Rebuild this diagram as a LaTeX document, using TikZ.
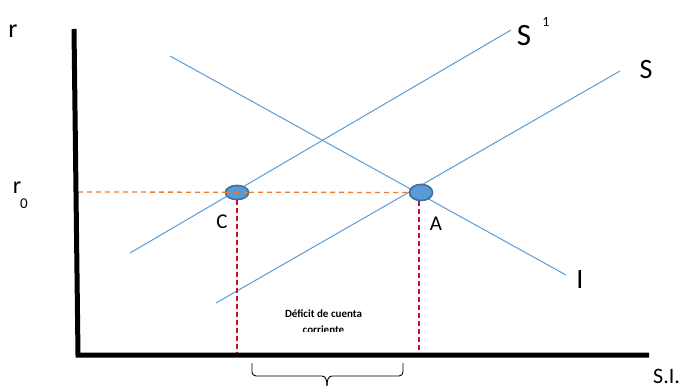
\documentclass[tikz,border=0pt]{standalone}
\usepackage{fontspec}
\setmainfont{Carlito}
\usetikzlibrary{shapes.geometric}
\definecolor{lineblue}{HTML}{5B9BD5}
\definecolor{ptborder}{HTML}{41719C}
\definecolor{dashorange}{HTML}{ED7D31}
\definecolor{dashred}{HTML}{C8102E}
\tikzset{
  axis/.style={line width=5pt, black, line join=miter},
  curve/.style={lineblue, line width=1pt},
  hdash/.style={dashorange, line width=1.3pt, dash pattern=on 5pt off 4pt},
  vdash/.style={dashred, line width=1.2pt, dash pattern=on 5pt off 3pt},
  pt/.style={ellipse, draw=ptborder, fill=lineblue, line width=1.5pt, inner sep=0pt},
  lbl/.style={inner sep=0pt, font=\fontsize{#1}{#1}\selectfont},
  lbl/.default=22,
  bracepath/.style={black, line width=0.9pt}
}
\begin{document}
\begin{tikzpicture}[x=1pt,y=-1pt]
\useasboundingbox (0,0) rectangle (679,385);
\clip (0,0) rectangle (679,385);

% curves
\coordinate (s1a) at (130,253); \coordinate (s1b) at (511,30);
\coordinate (sa) at (216,303); \coordinate (sb) at (620,71);
\coordinate (ia) at (170,56); \coordinate (ib) at (566,275);
\draw[curve] (s1a) -- (s1b);
\draw[curve] (sa) -- (sb);
\draw[curve] (ia) -- (ib);

% axes
\coordinate (ytop) at (74,29);
\coordinate (orig) at (78,355);
\coordinate (xend) at (649,355);
\coordinate (r0pt) at (78,192);
\coordinate (cbase) at (237,353);
\coordinate (abase) at (419,353);

% dashed guides
\node[pt, minimum width=23pt, minimum height=14pt] (C) at (237,192.5) {};
\node[pt, minimum width=23pt, minimum height=16pt] (A) at (421,192.5) {};
\draw[hdash] (r0pt) -- (A.center);
\draw[vdash] (C.south) -- (cbase);
\draw[vdash] ([xshift=-2pt]A.south) -- (abase);
\node[pt, minimum width=23pt, minimum height=14pt] at (C) {};
\node[pt, minimum width=23pt, minimum height=16pt] at (A) {};
\draw[hdash] (C.west) -- (C.east);

\draw[axis] (ytop) -- (orig) -- (xend);

% labels
\node[lbl=26] (r) at (13,31) {r};
\node[lbl=24] (r0) at (17,188) {r};
\node[lbl=15] (r0sub) at (24,203.5) {0};
\node[lbl=31] (S1) at (524,36) {S};
\node[lbl=14] (S1sup) at (546,22) {1};
\node[lbl=28] (S) at (646,70) {S};
\node[lbl=21] (Cl) at (222,222) {C};
\node[lbl=21] (Al) at (436,224) {A};
\node[lbl=28] (Il) at (580,280) {I};
\node[lbl=22, anchor=west] (SI) at (653,376) {S.I.};

% deficit text (clipped)
\begin{scope}
\clip (250,300) rectangle (410,331);
\node[inner sep=0pt, align=center, font=\fontsize{11}{16}\bfseries] (def) at (323.5,322) {Déficit de cuenta\\corriente};
\end{scope}

% brace
\coordinate (bl) at (252,363);
\coordinate (br) at (403,363);
\coordinate (bm) at (327,386);
\draw[bracepath] (bl) -- (252,372) to[out=-90,in=180] (256,376) -- (322,376) to[out=0,in=90] (bm);
\draw[bracepath] (br) -- (403,372) to[out=-90,in=0] (399,376) -- (332,376) to[out=180,in=90] (bm);
\end{tikzpicture}
\end{document}
